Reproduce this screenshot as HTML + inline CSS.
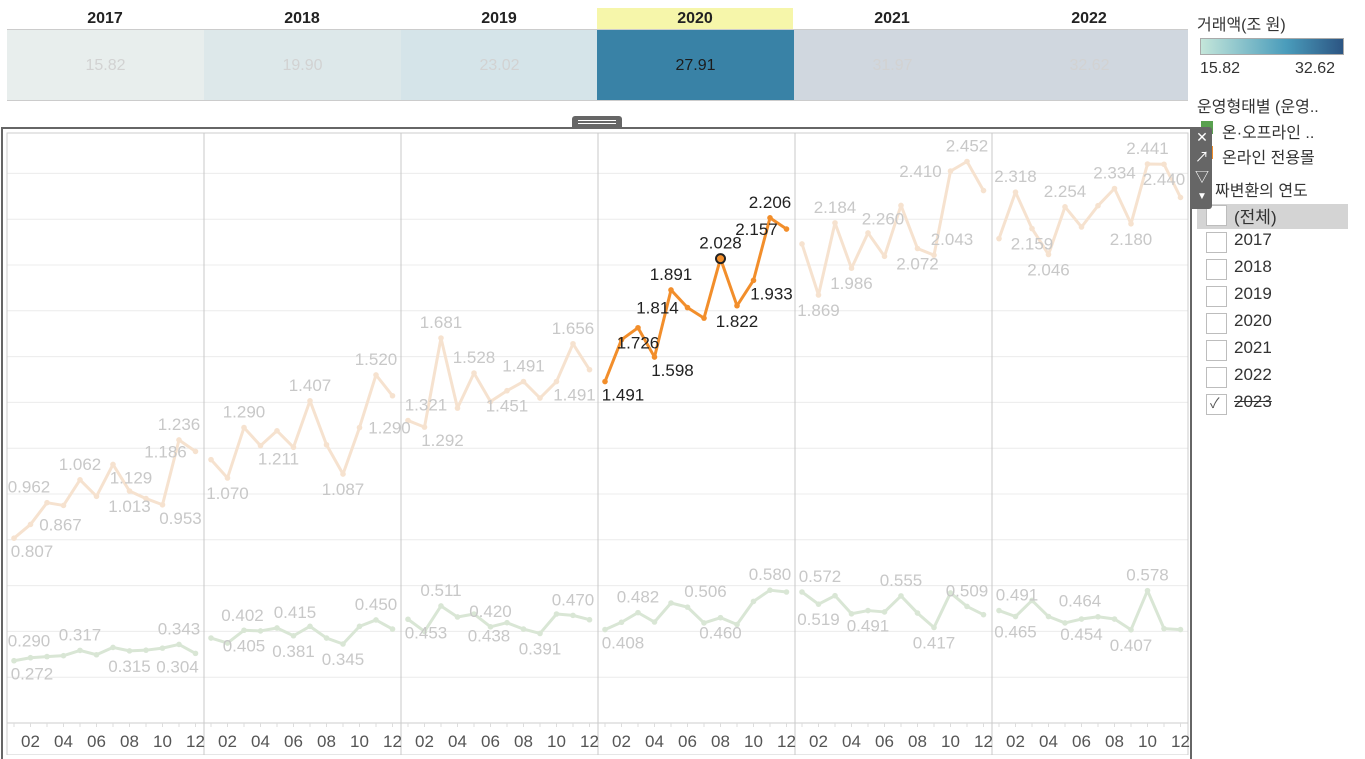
<!DOCTYPE html>
<html><head><meta charset="utf-8">
<style>
body{margin:0;width:1365px;height:755px;overflow:hidden;background:#fff;font-family:"Liberation Sans","Noto Sans CJK KR",sans-serif;position:relative}
.abs{position:absolute}
.yh{position:absolute;top:8px;height:21px;width:196px;text-align:center;font-weight:bold;font-size:16px;color:#222;line-height:21px}
.cell{position:absolute;top:30px;height:70px;width:197px;text-align:center;line-height:72px;font-size:16px;color:#d2d2d2}
.lg{position:absolute;font-size:16px;color:#333;white-space:nowrap}
.cb{position:absolute;left:1206px;width:19px;height:19px;border:1px solid #bdbdbd;background:#fff}
.ct{position:absolute;left:1234px;font-size:17px;color:#333}
</style></head><body>
<div class="yh" style="left:7px">2017</div>
<div class="yh" style="left:204px">2018</div>
<div class="yh" style="left:401px">2019</div>
<div class="yh" style="left:597px;background:#f6f6aa">2020</div>
<div class="yh" style="left:794px">2021</div>
<div class="yh" style="left:991px">2022</div>
<div class="abs" style="left:7px;top:29px;width:1181px;height:1px;background:#ccc"></div>
<div class="cell" style="left:7px;background:#e8eeed">15.82</div>
<div class="cell" style="left:204px;background:#dde8ea">19.90</div>
<div class="cell" style="left:401px;background:#d5e4e9">23.02</div>
<div class="cell" style="left:597px;background:#3982a6;color:#1c1c1c">27.91</div>
<div class="cell" style="left:794px;background:#d0d7df">31.97</div>
<div class="cell" style="left:991px;background:#d0d7df">32.62</div>
<div class="abs" style="left:7px;top:100px;width:1181px;height:1px;background:#ccc"></div>

<div class="abs" style="left:572px;top:116px;width:50px;height:11px;background:#666;border-radius:3px 3px 0 0"><div style="margin:4px 6px 0;height:1px;background:#fff"></div><div style="margin:2px 6px 0;height:1px;background:#fff"></div></div>
<div class="abs" style="left:1px;top:127px;width:1187px;height:630px;border:2px solid #666;border-bottom:none"></div>

<svg class="abs" style="left:0;top:0" width="1192" height="755">
<g id="grid"></g><g id="lines"></g><g id="labels"></g><g id="axis"></g>
</svg>

<div class="lg" style="left:1197px;top:11px">거래액(조 원)</div>
<div class="abs" style="left:1200px;top:38px;width:142px;height:15px;border:1px solid #aaa;background:linear-gradient(to right,#c4e6da,#4a9cbb 60%,#2c5583)"></div>
<div class="lg" style="left:1200px;top:60px">15.82</div>
<div class="lg" style="left:1295px;top:60px">32.62</div>
<div class="lg" style="left:1197px;top:93px">운영형태별 (운영..</div>
<div class="abs" style="left:1201px;top:121px;width:12px;height:13px;background:#59a14f"></div>
<div class="lg" style="left:1222px;top:119px">온·오프라인 ..</div>
<div class="abs" style="left:1201px;top:146px;width:12px;height:13px;background:#f28e2b"></div>
<div class="lg" style="left:1222px;top:144px">온라인 전용몰</div>
<div class="lg" style="left:1215px;top:177px">짜변환의 연도</div>
<div class="abs" style="left:1197px;top:204px;width:151px;height:25px;background:#d4d4d4"></div>
<div id="flist"></div>

<div class="abs" style="z-index:5;left:1192px;top:127px;width:20px;height:82px;background:#666;border-radius:0 3px 3px 0;color:#fff;font-size:14px;text-align:center;line-height:20px">
<div>✕</div><div>↗</div><div>▽</div><div style="font-size:10px">▼</div></div>

<script>
const years=['2017','2018','2019','2020','2021','2022'];
const months=[1,2,3,4,5,6,7,8,9,10,11,12];
const online=[
[0.807,0.867,0.962,0.950,1.062,0.990,1.129,1.013,0.980,0.953,1.236,1.186],
[1.150,1.070,1.290,1.211,1.276,1.204,1.407,1.215,1.087,1.290,1.520,1.429],
[1.321,1.292,1.681,1.375,1.528,1.404,1.451,1.491,1.419,1.491,1.656,1.543],
[1.491,1.674,1.726,1.598,1.891,1.814,1.768,2.028,1.822,1.933,2.206,2.157],
[2.092,1.869,2.184,1.986,2.140,2.038,2.260,2.072,2.043,2.410,2.452,2.325],
[2.115,2.318,2.159,2.046,2.254,2.166,2.259,2.334,2.180,2.441,2.440,2.295]];
const offline=[
[0.272,0.285,0.290,0.294,0.317,0.298,0.330,0.315,0.318,0.327,0.343,0.304],
[0.371,0.349,0.405,0.402,0.415,0.381,0.422,0.371,0.345,0.422,0.450,0.410],
[0.453,0.400,0.511,0.463,0.476,0.420,0.438,0.410,0.391,0.476,0.470,0.451],
[0.408,0.440,0.482,0.441,0.524,0.506,0.437,0.460,0.430,0.531,0.580,0.572],
[0.572,0.519,0.556,0.477,0.491,0.485,0.555,0.480,0.417,0.568,0.509,0.473],
[0.491,0.465,0.535,0.465,0.437,0.454,0.464,0.454,0.407,0.578,0.412,0.408]];
const tickLabels=['02','04','06','08','10','12'];
const selectedYear=3;
const onlineLabels=[[0,0,'br'],[0,1,'r'],[0,2,'al'],[0,4,'a'],[0,6,'br'],[0,7,'b'],[0,9,'br'],[0,10,'a'],[0,11,'l'],
[1,1,'b'],[1,2,'a'],[1,3,'br'],[1,6,'a'],[1,8,'b'],[1,9,'r'],[1,10,'a'],
[2,0,'ar'],[2,1,'br'],[2,2,'a'],[2,4,'a'],[2,6,'b'],[2,7,'a'],[2,9,'br'],[2,10,'a'],
[3,0,'br'],[3,2,'b'],[3,3,'br'],[3,4,'a'],[3,5,'l'],[3,7,'a'],[3,8,'b'],[3,9,'br'],[3,10,'a'],[3,11,'l'],
[4,1,'b'],[4,2,'a'],[4,3,'b'],[4,6,'bl'],[4,7,'b'],[4,8,'ar'],[4,9,'l'],[4,10,'a'],
[5,1,'a'],[5,2,'b'],[5,3,'b'],[5,4,'a'],[5,7,'a'],[5,8,'b'],[5,9,'a'],[5,10,'b']];
const offlineLabels=[[0,0,'br'],[0,2,'al'],[0,4,'a'],[0,7,'b'],[0,10,'a'],[0,11,'bl'],
[1,2,'b'],[1,3,'al'],[1,4,'ar'],[1,5,'b'],[1,8,'b'],[1,10,'a'],
[2,0,'br'],[2,2,'a'],[2,5,'a'],[2,6,'bl'],[2,8,'b'],[2,10,'a'],
[3,0,'br'],[3,2,'a'],[3,5,'ar'],[3,7,'b'],[3,10,'a'],
[4,0,'ar'],[4,1,'b'],[4,4,'b'],[4,6,'a'],[4,8,'b'],[4,10,'a'],
[5,0,'ar'],[5,1,'b'],[5,5,'b'],[5,6,'al'],[5,8,'b'],[5,9,'a']];

const NS='http://www.w3.org/2000/svg';
const panelX0=7,panelW=197,plotTop=133,axisY=723,unit=229;
function xs(yi,m){return panelX0+7+yi*panelW+(m-1)*16.5;}
function ys(v){return axisY-v*unit;}
function mk(tag,attrs,parent){const e=document.createElementNS(NS,tag);for(const k in attrs)e.setAttribute(k,attrs[k]);parent.appendChild(e);return e;}
const grid=document.getElementById('grid'),lines=document.getElementById('lines'),labels=document.getElementById('labels'),axis=document.getElementById('axis');
for(let v=0.2;ys(v)>plotTop;v+=0.2){const g=mk('line',{x1:panelX0,x2:1188,y1:ys(v),y2:ys(v),stroke:'#ececec','stroke-width':1},grid);

}
mk('rect',{x:panelX0,y:plotTop,width:1181,height:622,fill:'none',stroke:'#ccc'},grid);
for(let i=1;i<years.length;i++){const l=mk('line',{x1:panelX0+i*panelW,x2:panelX0+i*panelW,y1:plotTop,y2:755,stroke:'#c8c8c8'},grid);

}
mk('line',{x1:panelX0,x2:1188,y1:axisY,y2:axisY,stroke:'#ccc'},axis);
years.forEach((yr,yi)=>{
 months.forEach(m=>{mk('line',{x1:xs(yi,m),x2:xs(yi,m),y1:axisY,y2:axisY+4,stroke:'#ddd'},axis);});
 tickLabels.forEach(t=>{const tx=mk('text',{x:xs(yi,+t),y:axisY+24,'text-anchor':'middle','font-size':17,fill:'#555'},axis);tx.textContent=t;
 
 });
});
function drawSeries(data,selColor,dim,name){
 data.forEach((vals,yi)=>{
  const c=(yi===selectedYear&&selColor)?selColor:dim;
  const pts=vals.map((v,i)=>xs(yi,months[i])+','+ys(v)).join(' ');
  const pl=mk('polyline',{points:pts,fill:'none',stroke:c,'stroke-width':3,'stroke-linejoin':'round'},lines);
  
  
  vals.forEach((v,i)=>{const p=mk('circle',{cx:xs(yi,months[i]),cy:ys(v),r:2.8,fill:c},lines);
   
   });
 });
}
drawSeries(offline,null,'#d9e6d5','offline');
drawSeries(online,'#f28e2b','#f6e2cf','online');
const hp=mk('circle',{cx:xs(selectedYear,8),cy:ys(online[selectedYear][7]),r:4.5,fill:'#f28e2b',stroke:'#222','stroke-width':2},lines);


const off={a:[0,-10],b:[0,21],ar:[18,-10],al:[-18,-10],br:[18,19],bl:[-18,19],r:[30,6],l:[-30,6]};
function drawLabels(data,specs,name){
 specs.forEach(([yi,mi,s])=>{const v=data[yi][mi];const o=off[s];
  const t=mk('text',{x:xs(yi,months[mi])+o[0],y:ys(v)+o[1],'text-anchor':'middle','font-size':17,fill:(yi===selectedYear&&name==='online')?'#222':'#c8c8c8'},labels);
  t.textContent=v.toFixed(3);
  
  });
}
drawLabels(offline,offlineLabels,'offline');
drawLabels(online,onlineLabels,'online');
const fItems=['(전체)','2017','2018','2019','2020','2021','2022','2023'];
const fl=document.getElementById('flist');
fItems.forEach((it,i)=>{const top=205+i*27;
 const b=document.createElement('div');b.className='cb';b.style.top=top+'px';
 
 
 if(it==='2023'){b.innerHTML='<span style="position:absolute;left:3px;top:-2px;font-size:14px;color:#555">✓</span>';}
 fl.appendChild(b);
 const t=document.createElement('div');t.className='ct';t.style.top=(top-2)+'px';t.textContent=it;
 if(it==='2023')t.style.textDecoration='line-through';
 
 
 fl.appendChild(t);});
</script>
</body></html>
